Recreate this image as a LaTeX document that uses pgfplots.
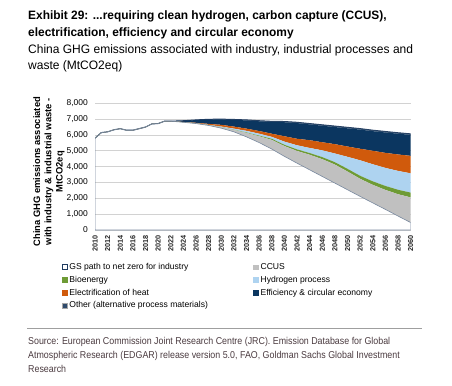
\documentclass[border=0pt]{standalone}
\usepackage{fontspec}
\setmainfont{Liberation Sans}
\newfontfamily\condfont[FakeStretch=0.98]{Liberation Sans}
\newfontfamily\srcfont[FakeStretch=0.89]{Liberation Sans}
\usepackage{pgfplots}
\usepackage{pgfplotstable}
\pgfplotsset{compat=1.18}

\definecolor{ccus}{HTML}{C0C0C0}
\definecolor{bio}{HTML}{6E9B35}
\definecolor{hyd}{HTML}{AED3F0}
\definecolor{elec}{HTML}{D05A0C}
\definecolor{eff}{HTML}{0B3660}
\definecolor{other}{HTML}{2E4A6B}
\definecolor{gsline}{HTML}{1F3A5F}
\definecolor{srccol}{HTML}{4A3A3F}

\pgfplotsset{sq/.style={legend image code/.code={\draw[##1] (0bp,-2.4bp) rectangle (4.8bp,2.4bp);}}}

% layer values (MtCO2eq): g = GS path to net zero, c = CCUS, b = Bioenergy,
% h = Hydrogen process, e = Electrification of heat, f = Efficiency & circular economy,
% o = Other (alternative process materials), z = zero (top line)
\pgfplotstableread{
year g c b h e f o z
2010 5800 0 0 0 0 0 0 0
2011 6150 0 0 0 0 0 0 0
2012 6200 0 0 0 0 0 0 0
2013 6330 0 0 0 0 0 0 0
2014 6400 0 0 0 0 0 0 0
2015 6300 0 0 0 0 0 0 0
2016 6300 0 0 0 0 0 0 0
2017 6400 0 0 0 0 0 0 0
2018 6500 0 0 0 0 0 0 0
2019 6700 0 0 0 0 0 0 0
2020 6720 0 0 0 0 0 0 0
2021 6870 0 0 0 0 0 0 0
2022 6870 0 0 0 0 0 0 0
2024 6800 5 3 4 13 70 5 0
2026 6720 15 5 5 25 170 10 0
2028 6600 25 5 10 60 275 15 0
2030 6430 60 10 30 110 340 20 0
2032 6200 110 15 75 130 425 25 0
2034 5880 250 30 100 140 520 30 0
2036 5520 400 40 120 170 615 35 0
2038 5110 580 70 120 200 740 40 0
2040 4650 650 80 200 340 885 45 0
2042 4220 770 100 260 410 990 50 0
2044 3800 950 110 320 490 1000 50 0
2046 3380 1090 130 430 510 1045 55 0
2048 2960 1170 150 550 590 1080 60 0
2050 2540 1150 170 760 650 1150 60 0
2052 2120 1110 190 980 730 1210 60 0
2054 1710 1140 220 1080 850 1240 60 0
2056 1300 1230 250 1140 950 1290 60 0
2058 880 1380 280 1190 1040 1310 60 0
2060 470 1590 300 1220 1100 1330 60 0
}\data

\begin{document}
\begin{tikzpicture}
\useasboundingbox (0,0) rectangle (452bp,-386bp);

% titles
\node[anchor=base west, inner sep=0pt, font=\condfont\bfseries\fontsize{12.2}{13}\selectfont] at (28bp,-19bp) {Exhibit 29: ...requiring clean hydrogen, carbon capture (CCUS),};
\node[anchor=base west, inner sep=0pt, font=\condfont\bfseries\fontsize{12.2}{13}\selectfont] at (28bp,-36bp) {electrification, efficiency and circular economy};
\node[anchor=base west, inner sep=0pt, font=\condfont\fontsize{12.3}{13}\selectfont] at (28bp,-53.5bp) {China GHG emissions associated with industry, industrial processes and};
\node[anchor=base west, inner sep=0pt, font=\condfont\fontsize{12.3}{13}\selectfont] at (28bp,-69.5bp) {waste (MtCO2eq)};

% y label
\node[rotate=90, align=center, inner sep=0pt, font=\bfseries\fontsize{9.4}{11.3}\selectfont] at (49bp,-171.7bp) {China GHG emissions associated\\with industry \& industrial waste -\\MtCO2eq};

\begin{axis}[
  at={(95bp,-230bp)}, anchor=south west,
  scale only axis, width=315.7bp, height=126.7bp,
  xmin=2010, xmax=2060, ymin=0, ymax=8000,
  xtick={2010,2012,...,2060}, ytick={0,1000,...,8000},
  ymajorgrids, grid style={gray!35, line width=0.7pt},
  axis line style={draw=none}, major tick length=0pt,
  stack plots=y,
  /pgf/number format/assume math mode=true,
  y tick label style={/pgf/number format/1000 sep={,}},
  x tick label style={/pgf/number format/1000 sep={}},
  yticklabel style={font=\fontsize{8.5}{10}\selectfont, anchor=east, inner sep=0pt},
  yticklabel shift=7bp,
  xticklabel style={font=\bfseries\fontsize{7.3}{8}\selectfont, rotate=90, anchor=east, inner sep=0pt, text=black!85},
  xticklabel shift=5bp,
  legend columns=2,
  legend cell align=left,
  legend style={at={(axis description cs:-0.1045,-0.2605)}, anchor=north west, draw=none, fill=none,
    inner sep=0pt, outer sep=0pt, row sep=4.6bp, /tikz/column sep=0pt,
    nodes={inner sep=0pt, text height=6.4bp, text depth=1.8bp, font=\fontsize{8.6}{10}\selectfont}},
]
\addplot[draw=gsline!60, line width=0.6pt, forget plot] table[x=year,y=g]{\data} \closedcycle;
\addplot[fill=ccus, draw=none, forget plot] table[x=year,y=c]{\data} \closedcycle;
\addplot[fill=bio, draw=none, forget plot] table[x=year,y=b]{\data} \closedcycle;
\addplot[fill=hyd, draw=none, forget plot] table[x=year,y=h]{\data} \closedcycle;
\addplot[fill=elec, draw=none, forget plot] table[x=year,y=e]{\data} \closedcycle;
\addplot[fill=eff, draw=none, forget plot] table[x=year,y=f]{\data} \closedcycle;
\addplot[fill=other, draw=none, forget plot] table[x=year,y=o]{\data} \closedcycle;
\addplot[draw=gsline, line width=1pt, forget plot] table[x=year,y=z]{\data};

\addlegendimage{sq, fill=white, draw=gsline, line width=0.6pt}
\addlegendentry{\makebox[186bp][l]{\hspace{2bp}GS path to net zero for industry}}
\addlegendimage{sq, fill=ccus, draw=ccus}
\addlegendentry{\hspace{2bp}CCUS}
\addlegendimage{sq, fill=bio, draw=bio}
\addlegendentry{\makebox[186bp][l]{\hspace{2bp}Bioenergy}}
\addlegendimage{sq, fill=hyd, draw=hyd}
\addlegendentry{\hspace{2bp}Hydrogen process}
\addlegendimage{sq, fill=elec, draw=elec}
\addlegendentry{\makebox[186bp][l]{\hspace{2bp}Electrification of heat}}
\addlegendimage{sq, fill=eff, draw=eff}
\addlegendentry{\hspace{2bp}Efficiency \& circular economy}
\addlegendimage{sq, fill=other, draw=gray!70, line width=0.5pt}
\addlegendentry{\makebox[186bp][l]{\hspace{2bp}Other (alternative process materials)}}
\end{axis}

\draw[gray!75, line width=0.9bp] (27bp,-328bp) -- (422bp,-328bp);

\node[anchor=base west, inner sep=0pt, text=srccol, font=\srcfont\fontsize{10}{11}\selectfont] at (28bp,-344.3bp) {Source: European Commission Joint Research Centre (JRC). Emission Database for Global};
\node[anchor=base west, inner sep=0pt, text=srccol, font=\srcfont\fontsize{10}{11}\selectfont] at (28bp,-358.5bp) {Atmospheric Research (EDGAR) release version 5.0, FAO, Goldman Sachs Global Investment};
\node[anchor=base west, inner sep=0pt, text=srccol, font=\srcfont\fontsize{10}{11}\selectfont] at (28bp,-372.5bp) {Research};
\end{tikzpicture}
\end{document}
